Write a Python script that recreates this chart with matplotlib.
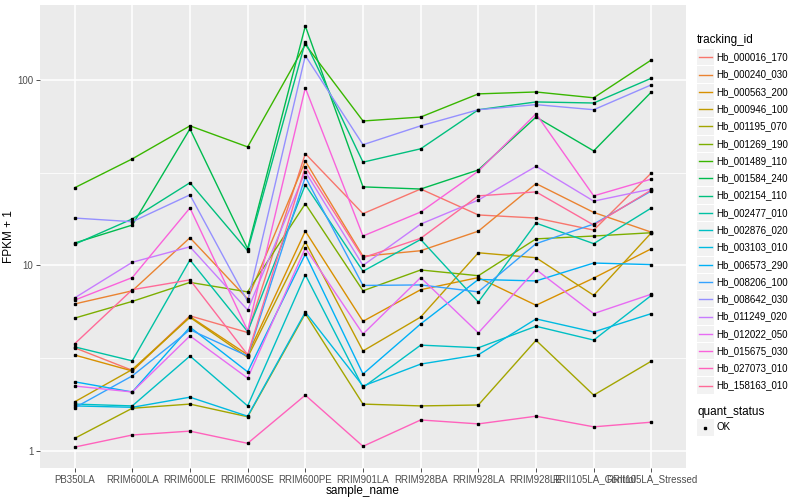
import matplotlib
matplotlib.use("Agg")
import matplotlib.pyplot as plt
from matplotlib.ticker import FixedLocator, NullFormatter
from matplotlib.lines import Line2D
from matplotlib.patches import Rectangle

plt.rcParams['font.family'] = ['Liberation Sans', 'DejaVu Sans']

samples = ["PB350LA", "RRIM600LA", "RRIM600LE", "RRIM600SE", "RRIM600PE",
           "RRIM901LA", "RRIM928BA", "RRIM928LA", "RRIM928LE",
           "RRII105LA_Control", "RRII105LA_Stressed"]

tracking_ids = ["Hb_000016_170", "Hb_000240_030", "Hb_000563_200", "Hb_000946_100",
                "Hb_001195_070", "Hb_001269_190", "Hb_001489_110", "Hb_001584_240",
                "Hb_002154_110", "Hb_002477_010", "Hb_002876_020", "Hb_003103_010",
                "Hb_006573_290", "Hb_008206_100", "Hb_008642_030", "Hb_011249_020",
                "Hb_012022_050", "Hb_015675_030", "Hb_027073_010", "Hb_158163_010"]

colors = ["#F8766D", "#EA8331", "#D89000", "#C09B00", "#A3A500", "#7CAE00", "#39B600",
          "#00BB4E", "#00BF7D", "#00C1A3", "#00BFC4", "#00BAE0", "#00B0F6", "#35A2FF",
          "#9590FF", "#C77CFF", "#E76BF3", "#FA62DB", "#FF62BC", "#FF6A98"]

# FPKM + 1 per sample, one list per tracking_id
hb_000016_170 = [3.6, 2.72, 5.35, 4.35, 40, 19, 25.8, 18.7, 18.0, 15.5, 31.5]
hb_000240_030 = [6.2, 7.3, 14.1, 6.6, 36.5, 11.2, 12.0, 15.3, 27.6, 19.3, 15.1]
hb_000563_200 = [3.29, 2.7, 5.3, 3.3, 15.3, 5.0, 7.4, 8.6, 6.1, 8.55, 12.3]
hb_000946_100 = [1.84, 2.75, 5.25, 3.2, 13.4, 3.46, 5.27, 11.7, 11.0, 6.9, 15.0]
hb_001195_070 = [1.17, 1.70, 1.79, 1.53, 5.5, 1.79, 1.75, 1.77, 3.95, 2.0, 3.05]
hb_001269_190 = [5.2, 6.4, 8.1, 7.2, 21.5, 7.3, 9.45, 8.8, 13.9, 14.4, 15.0]
hb_001489_110 = [26.2, 37.5, 56.5, 43.5, 155, 60, 63, 84, 86, 80, 128]
hb_001584_240 = [13.2, 16.5, 54.4, 12.3, 195, 26.5, 25.8, 32.7, 63, 41.4, 86]
hb_002154_110 = [13.0, 17.8, 27.9, 12.0, 160, 36, 42.5, 69, 76, 75, 102]
hb_002477_010 = [3.64, 3.06, 10.7, 4.4, 27.2, 9.3, 13.8, 6.35, 16.9, 13.1, 20.4]
hb_002876_020 = [1.79, 1.75, 3.25, 1.75, 8.9, 2.2, 3.72, 3.6, 4.7, 3.96, 6.9]
hb_003103_010 = [1.75, 1.72, 1.95, 1.54, 5.6, 2.24, 2.94, 3.3, 5.15, 4.38, 5.5]
hb_006573_290 = [2.36, 2.08, 4.65, 2.67, 11.5, 2.6, 4.84, 8.4, 8.25, 10.3, 10.1]
hb_008206_100 = [1.71, 2.54, 4.5, 3.25, 30, 7.8, 7.85, 7.2, 13.1, 16.7, 25.2]
hb_008642_030 = [18, 17.2, 24, 6.4, 135, 44.7, 56.5, 69, 73.5, 69, 94]
hb_011249_020 = [6.68, 10.4, 12.6, 5.75, 32, 10.0, 16.7, 22.5, 34.2, 22.2, 25.8]
hb_012022_050 = [2.24, 2.08, 4.17, 2.47, 12.4, 4.27, 8.6, 4.33, 9.5, 5.5, 7.0]
hb_015675_030 = [6.5, 8.6, 20.4, 4.45, 90.5, 14.4, 19.4, 32.2, 65.6, 23.7, 29.2]
hb_027073_010 = [1.05, 1.22, 1.28, 1.10, 2.0, 1.06, 1.47, 1.40, 1.54, 1.35, 1.43]
hb_158163_010 = [3.78, 7.4, 8.36, 3.3, 34, 11.0, 14.0, 23.7, 24.9, 16.5, 25.5]

series = [hb_000016_170, hb_000240_030, hb_000563_200, hb_000946_100, hb_001195_070,
          hb_001269_190, hb_001489_110, hb_001584_240, hb_002154_110, hb_002477_010,
          hb_002876_020, hb_003103_010, hb_006573_290, hb_008206_100, hb_008642_030,
          hb_011249_020, hb_012022_050, hb_015675_030, hb_027073_010, hb_158163_010]

y_ticks = [1, 10, 100]
y_tick_labels = ["1", "10", "100"]

W, H = 800, 500
fig = plt.figure(figsize=(8, 5), dpi=100)
L, R, T, B = 40, 686, 5, 468
ax = fig.add_axes([L / W, 1 - B / H, (R - L) / W, (B - T) / H])
ax.set_facecolor("#EBEBEB")
for s in ax.spines.values():
    s.set_visible(False)

xs = list(range(len(samples)))
for vals, c in zip(series, colors):
    ax.plot(xs, vals, color=c, lw=1.0, zorder=3, solid_capstyle='butt')
for vals in series:
    ax.plot(xs, vals, ls='none', marker='s', ms=2.1, color='black', zorder=4)

ax.set_yscale('log')
ax.set_ylim(0.81, 253)
ax.set_xlim(-0.6, len(samples) - 0.4)
ax.yaxis.set_major_locator(FixedLocator(y_ticks))
ax.set_yticklabels(y_tick_labels)
ax.yaxis.set_minor_locator(FixedLocator([10 ** 0.5, 10 ** 1.5]))
ax.yaxis.set_minor_formatter(NullFormatter())
ax.set_xticks(xs)
ax.set_xticklabels(samples)
ax.grid(which='major', color='white', lw=1.1, zorder=1)
ax.grid(which='minor', axis='y', color='white', lw=0.55, zorder=1)
ax.set_axisbelow(True)
ax.tick_params(axis='both', which='major', length=2.7, width=0.6, color='#333333',
               labelsize=7, labelcolor='#4D4D4D', pad=2)
ax.tick_params(axis='both', which='minor', length=0)
ax.set_xlabel("sample_name", fontsize=8.5, color='black', labelpad=0.5)
ax.set_ylabel("FPKM + 1", fontsize=8.5, color='black', labelpad=2)

# Legends (ggplot style)
def fx(px):
    return px / W

def fy(py):
    return 1 - py / H

fig.text(fx(697), fy(40.5), "tracking_id", fontsize=8.5, va='center', ha='left')
step = 17.28
for i, (tid, c) in enumerate(zip(tracking_ids, colors)):
    yc = 57.3 + i * step
    fig.patches.append(Rectangle((fx(697), fy(yc + step / 2 - 0.5)), fx(16.5), (step - 1) / H,
                                 transform=fig.transFigure, facecolor='#F2F2F2',
                                 edgecolor='none', zorder=1))
    fig.lines.append(Line2D([fx(698.5), fx(712)], [fy(yc), fy(yc)], color=c, lw=1.0,
                            transform=fig.transFigure, zorder=2))
    fig.text(fx(716.5), fy(yc), tid, fontsize=7, va='center', ha='left')

fig.text(fx(697), fy(411.5), "quant_status", fontsize=8.5, va='center', ha='left')
yc = 427.5
fig.patches.append(Rectangle((fx(697), fy(yc + step / 2 - 0.5)), fx(16.5), (step - 1) / H,
                             transform=fig.transFigure, facecolor='#F2F2F2',
                             edgecolor='none', zorder=1))
fig.lines.append(Line2D([fx(705)], [fy(yc)], ls='none', marker='s', ms=2.1, color='black',
                        transform=fig.transFigure, zorder=2))
fig.text(fx(716.5), fy(yc), "OK", fontsize=7, va='center', ha='left')

fig.savefig("out.png", dpi=100)
